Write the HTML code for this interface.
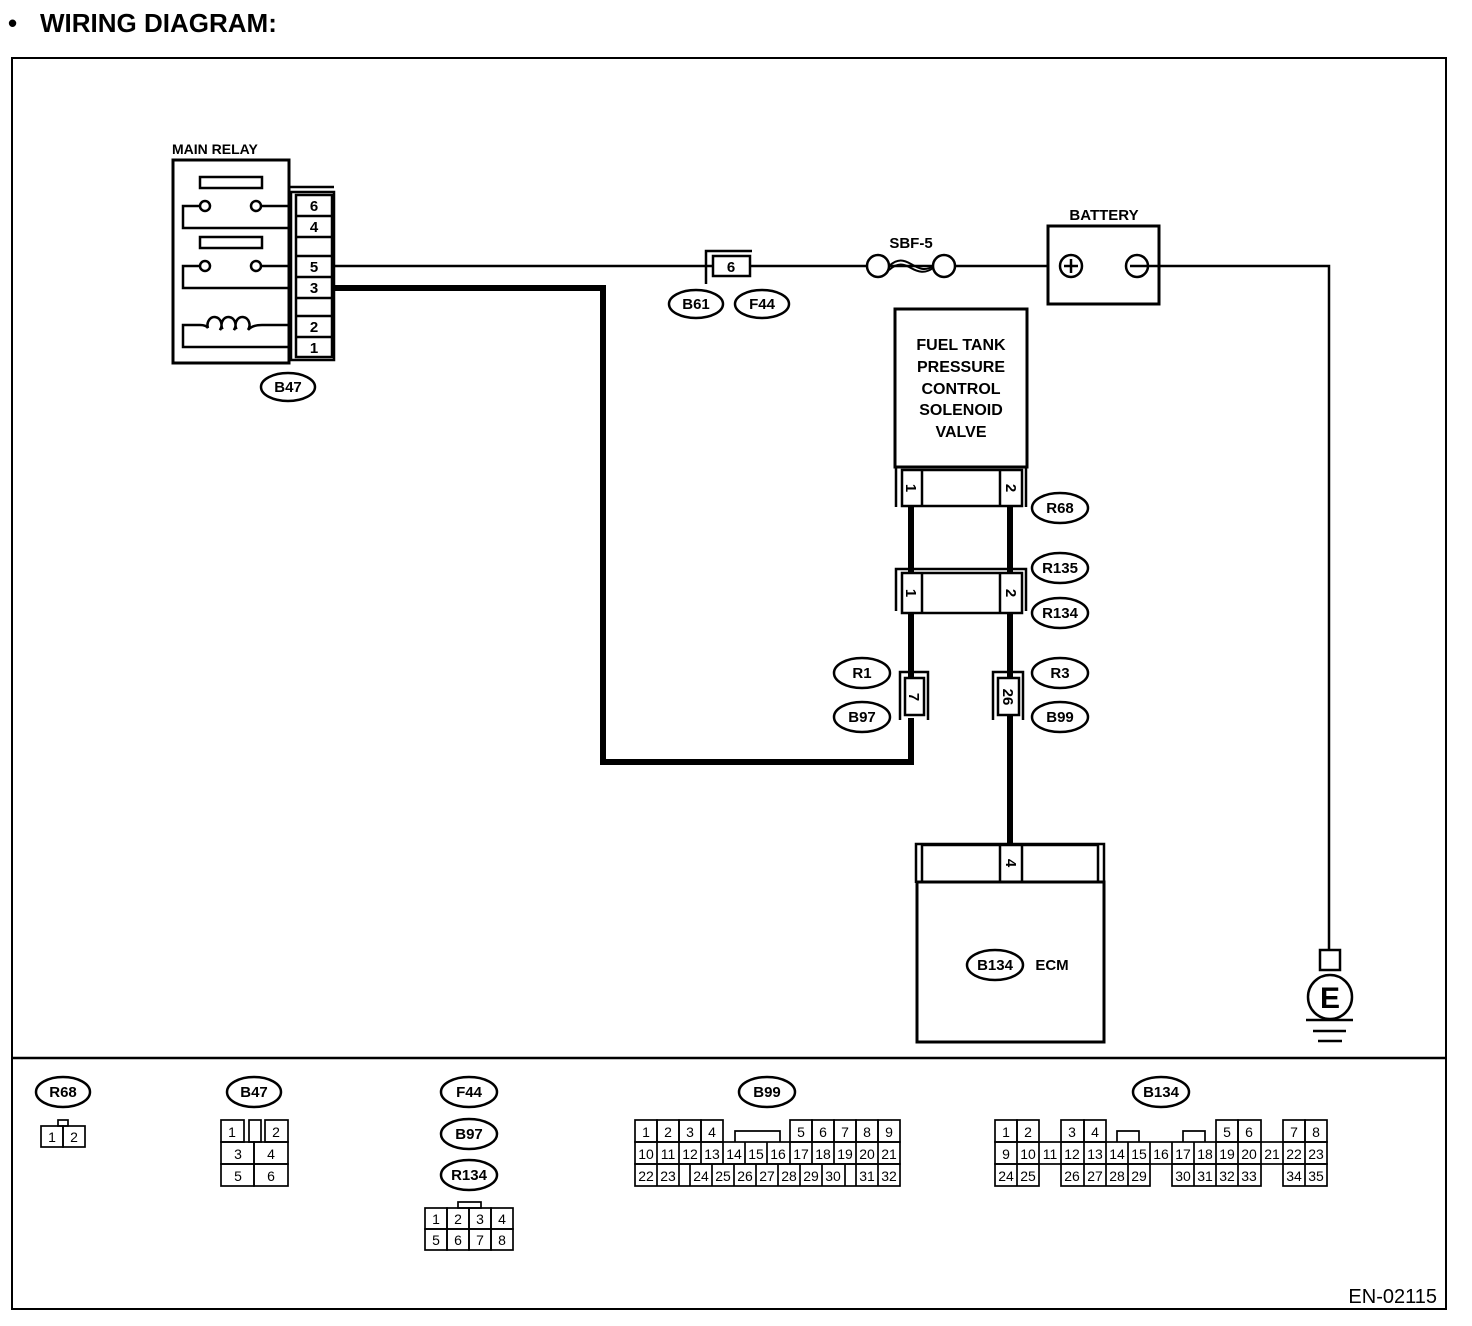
<!DOCTYPE html>
<html><head><meta charset="utf-8"><style>
html,body{margin:0;padding:0;background:#fff}
svg{display:block}
text{font-family:"Liberation Sans",Arial,sans-serif;fill:#000}
.b{font-weight:bold}
.lb{font-weight:bold;font-size:15px;text-anchor:middle}
.n{font-size:14px;text-anchor:middle}
</style></head><body>
<svg width="1472" height="1326" viewBox="0 0 1472 1326" xmlns="http://www.w3.org/2000/svg">
<g stroke="#000" fill="none" stroke-width="2.5">
<rect x="12" y="58" width="1434" height="1251" stroke-width="2"/>
<line x1="12" y1="1058" x2="1446" y2="1058"/>

<rect x="173" y="160" width="116" height="203" stroke-width="3"/>
<line x1="288" y1="187" x2="334" y2="187"/>
<rect x="291" y="192" width="43" height="168"/>
<rect x="296" y="195" width="36" height="162"/>
<line x1="296" y1="216" x2="332" y2="216"/>
<line x1="296" y1="237" x2="332" y2="237"/>
<line x1="296" y1="256" x2="332" y2="256"/>
<line x1="296" y1="277" x2="332" y2="277"/>
<line x1="296" y1="298" x2="332" y2="298"/>
<line x1="296" y1="316" x2="332" y2="316"/>
<line x1="296" y1="337" x2="332" y2="337"/>
<rect x="200" y="177" width="62" height="11"/>
<circle cx="205" cy="206" r="5"/><circle cx="256" cy="206" r="5"/>
<polyline points="200,206 183,206 183,228 292,228"/>
<line x1="261" y1="206" x2="292" y2="206"/>
<rect x="200" y="237" width="62" height="11"/>
<circle cx="205" cy="266" r="5"/><circle cx="256" cy="266" r="5"/>
<polyline points="200,266 183,266 183,288 292,288"/>
<line x1="261" y1="266" x2="292" y2="266"/>
<polyline points="292,347 183,347 183,325 200,325"/>
<path d="M200,325 Q206,325 208,328 A7,8 0 1 1 220,330 A3,3 0 0 1 222,328 A7,8 0 1 1 234,330 A3,3 0 0 1 236,328 A7,8 0 1 1 248,330 Q252,325 262,325 L292,325"/>
<ellipse cx="288" cy="387" rx="27" ry="14"/>

<line x1="334" y1="266" x2="1048" y2="266"/>
<polyline points="706,284 706,251 752,251"/>
<rect x="713" y="256" width="37" height="20" fill="#fff"/>
<circle cx="878" cy="266" r="11" fill="#fff"/>
<circle cx="944" cy="266" r="11" fill="#fff"/>
<path d="M889,266 C898,258 904,260 911,264 C918,268 925,272 933,266" stroke-width="2"/>
<path d="M889,270 C898,262 904,264 911,268 C918,272 925,274 933,268" stroke-width="2"/>
<ellipse cx="696" cy="304" rx="27" ry="14"/>
<ellipse cx="762" cy="304" rx="27" ry="14"/>
<rect x="1048" y="226" width="111" height="78" stroke-width="3"/>
<circle cx="1071" cy="266" r="11"/>
<line x1="1064" y1="266" x2="1078" y2="266"/><line x1="1071" y1="259" x2="1071" y2="273"/>
<circle cx="1137" cy="266" r="11"/>
<polyline points="1130,266 1329,266 1329,950"/>
<rect x="1320" y="950" width="20" height="20"/>
<circle cx="1330" cy="997" r="22"/>
<line x1="1306" y1="1020" x2="1353" y2="1020"/>
<line x1="1313" y1="1031" x2="1346" y2="1031"/>
<line x1="1318" y1="1041" x2="1342" y2="1041"/>

<polyline points="334,288 603,288 603,762 911,762 911,718" stroke-width="6"/>
<line x1="911" y1="506" x2="911" y2="573" stroke-width="6"/>
<line x1="1010" y1="506" x2="1010" y2="573" stroke-width="6"/>
<line x1="911" y1="613" x2="911" y2="678" stroke-width="6"/>
<line x1="1010" y1="613" x2="1010" y2="678" stroke-width="6"/>
<line x1="1010" y1="715" x2="1010" y2="846" stroke-width="6"/>

<rect x="895" y="309" width="132" height="158" stroke-width="3"/>
<polyline points="896,507 896,467 1026,467 1026,507"/>
<rect x="902" y="470" width="120" height="36" fill="#fff"/>
<line x1="922" y1="470" x2="922" y2="506"/><line x1="1000" y1="470" x2="1000" y2="506"/>
<polyline points="896,611 896,569 1026,569 1026,611"/>
<rect x="902" y="573" width="120" height="40" fill="#fff"/>
<line x1="922" y1="573" x2="922" y2="613"/><line x1="1000" y1="573" x2="1000" y2="613"/>
<polyline points="900,720 900,672 928,672 928,720"/>
<rect x="905" y="678" width="19" height="37" fill="#fff"/>
<polyline points="993,720 993,672 1023,672 1023,720"/>
<rect x="998" y="678" width="21" height="37" fill="#fff"/>
<ellipse cx="1060" cy="508" rx="28" ry="15"/>
<ellipse cx="1060" cy="568" rx="28" ry="15"/>
<ellipse cx="1060" cy="613" rx="28" ry="15"/>
<ellipse cx="862" cy="673" rx="28" ry="15"/>
<ellipse cx="862" cy="717" rx="28" ry="15"/>
<ellipse cx="1060" cy="673" rx="28" ry="15"/>
<ellipse cx="1060" cy="717" rx="28" ry="15"/>

<polyline points="916,883 916,844 1104,844 1104,883"/>
<rect x="922" y="845" width="176" height="37"/>
<line x1="1000" y1="845" x2="1000" y2="882"/><line x1="1022" y1="845" x2="1022" y2="882"/>
<rect x="917" y="882" width="187" height="160" stroke-width="3"/>
<ellipse cx="995" cy="965" rx="28" ry="15"/>

<ellipse cx="63" cy="1092" rx="27" ry="15"/>
<ellipse cx="254" cy="1092" rx="27" ry="15"/>
<ellipse cx="469" cy="1092" rx="28" ry="15"/>
<ellipse cx="469" cy="1134" rx="28" ry="15"/>
<ellipse cx="469" cy="1175" rx="28" ry="15"/>
<ellipse cx="767" cy="1092" rx="28" ry="15"/>
<ellipse cx="1161" cy="1092" rx="28" ry="15"/>
</g>

<g stroke="#000" fill="none" stroke-width="1.7">
<rect x="58" y="1120" width="10" height="6"/>
<rect x="41" y="1126" width="22" height="21"/><rect x="63" y="1126" width="22" height="21"/>
<rect x="221" y="1120" width="23" height="22"/><rect x="249" y="1120" width="12" height="22"/><rect x="265" y="1120" width="23" height="22"/>
<rect x="221" y="1142" width="33" height="22"/><rect x="254" y="1142" width="34" height="22"/>
<rect x="221" y="1164" width="33" height="22"/><rect x="254" y="1164" width="34" height="22"/>
<rect x="458" y="1202" width="23" height="6"/>
<rect x="425" y="1208" width="22" height="21"/><rect x="447" y="1208" width="22" height="21"/><rect x="469" y="1208" width="22" height="21"/><rect x="491" y="1208" width="22" height="21"/>
<rect x="425" y="1229" width="22" height="21"/><rect x="447" y="1229" width="22" height="21"/><rect x="469" y="1229" width="22" height="21"/><rect x="491" y="1229" width="22" height="21"/>
<rect x="635" y="1120" width="22" height="22"/><rect x="657" y="1120" width="22" height="22"/><rect x="679" y="1120" width="22" height="22"/><rect x="701" y="1120" width="22" height="22"/>
<polyline points="735,1142 735,1131 780,1131 780,1142"/>
<rect x="790" y="1120" width="22" height="22"/><rect x="812" y="1120" width="22" height="22"/><rect x="834" y="1120" width="22" height="22"/><rect x="856" y="1120" width="22" height="22"/><rect x="878" y="1120" width="22" height="22"/>
<rect x="635" y="1142" width="265" height="22"/>
<path d="M657,1142V1164M679,1142V1164M701,1142V1164M723,1142V1164M745,1142V1164M767,1142V1164M790,1142V1164M812,1142V1164M834,1142V1164M856,1142V1164M878,1142V1164"/>
<rect x="635" y="1164" width="265" height="22"/>
<path d="M657,1164V1186M679,1164V1186M690,1164V1186M712,1164V1186M734,1164V1186M756,1164V1186M778,1164V1186M800,1164V1186M822,1164V1186M845,1164V1186M856,1164V1186M878,1164V1186"/>
<rect x="995" y="1120" width="22" height="22"/><rect x="1017" y="1120" width="22" height="22"/>
<rect x="1061" y="1120" width="23" height="22"/><rect x="1084" y="1120" width="22" height="22"/>
<polyline points="1117,1142 1117,1131 1139,1131 1139,1142"/>
<polyline points="1183,1142 1183,1131 1205,1131 1205,1142"/>
<rect x="1216" y="1120" width="22" height="22"/><rect x="1238" y="1120" width="23" height="22"/>
<rect x="1283" y="1120" width="22" height="22"/><rect x="1305" y="1120" width="22" height="22"/>
<rect x="995" y="1142" width="332" height="22"/>
<path d="M1017,1142V1164M1039,1142V1164M1061,1142V1164M1084,1142V1164M1106,1142V1164M1128,1142V1164M1150,1142V1164M1172,1142V1164M1194,1142V1164M1216,1142V1164M1238,1142V1164M1261,1142V1164M1283,1142V1164M1305,1142V1164"/>
<rect x="995" y="1164" width="44" height="22"/><line x1="1017" y1="1164" x2="1017" y2="1186"/>
<rect x="1061" y="1164" width="89" height="22"/><path d="M1084,1164V1186M1106,1164V1186M1128,1164V1186"/>
<rect x="1172" y="1164" width="89" height="22"/><path d="M1194,1164V1186M1216,1164V1186M1238,1164V1186"/>
<rect x="1283" y="1164" width="44" height="22"/><line x1="1305" y1="1164" x2="1305" y2="1186"/>
</g>

<text x="8" y="32" class="b" font-size="26">•</text>
<text x="40" y="32" class="b" font-size="26">WIRING DIAGRAM:</text>
<text x="1437" y="1303" font-size="20" text-anchor="end">EN-02115</text>
<text x="172" y="154" class="b" font-size="14">MAIN RELAY</text>
<g class="lb">
<text x="314" y="211">6</text><text x="314" y="232">4</text><text x="314" y="272">5</text><text x="314" y="293">3</text><text x="314" y="332">2</text><text x="314" y="353">1</text>
<text x="288" y="392">B47</text>
<text x="731" y="272">6</text>
<text x="696" y="309">B61</text><text x="762" y="309">F44</text>
<text x="911" y="248">SBF-5</text>
<text x="1104" y="220">BATTERY</text>
<text x="961" y="350" font-size="16">FUEL TANK</text>
<text x="961" y="372" font-size="16">PRESSURE</text>
<text x="961" y="394" font-size="16">CONTROL</text>
<text x="961" y="415" font-size="16">SOLENOID</text>
<text x="961" y="437" font-size="16">VALVE</text>
<text x="1060" y="513">R68</text><text x="1060" y="573">R135</text><text x="1060" y="618">R134</text>
<text x="862" y="678">R1</text><text x="862" y="722">B97</text><text x="1060" y="678">R3</text><text x="1060" y="722">B99</text>
<text x="995" y="970">B134</text>
<text x="1052" y="970">ECM</text>
<text x="1330" y="1008" font-size="30">E</text>
<text x="63" y="1097">R68</text><text x="254" y="1097">B47</text>
<text x="469" y="1097">F44</text><text x="469" y="1139">B97</text><text x="469" y="1180">R134</text>
<text x="767" y="1097">B99</text><text x="1161" y="1097">B134</text>
</g>
<g class="lb" font-size="14">
<text transform="translate(911,488) rotate(90)" y="5">1</text>
<text transform="translate(1011,488) rotate(90)" y="5">2</text>
<text transform="translate(911,593) rotate(90)" y="5">1</text>
<text transform="translate(1011,593) rotate(90)" y="5">2</text>
<text transform="translate(914,697) rotate(90)" y="5">7</text>
<text transform="translate(1008,697) rotate(90)" y="5">26</text>
<text transform="translate(1011,863) rotate(90)" y="5">4</text>
</g>
<g class="n">
<text x="52" y="1142">1</text><text x="74" y="1142">2</text>
<text x="232" y="1137">1</text><text x="276" y="1137">2</text>
<text x="238" y="1159">3</text><text x="271" y="1159">4</text>
<text x="238" y="1181">5</text><text x="271" y="1181">6</text>
<text x="436" y="1224">1</text><text x="458" y="1224">2</text><text x="480" y="1224">3</text><text x="502" y="1224">4</text>
<text x="436" y="1245">5</text><text x="458" y="1245">6</text><text x="480" y="1245">7</text><text x="502" y="1245">8</text>
<text x="646" y="1137">1</text><text x="668" y="1137">2</text><text x="690" y="1137">3</text><text x="712" y="1137">4</text>
<text x="801" y="1137">5</text><text x="823" y="1137">6</text><text x="845" y="1137">7</text><text x="867" y="1137">8</text><text x="889" y="1137">9</text>
<text x="646" y="1159">10</text><text x="668" y="1159">11</text><text x="690" y="1159">12</text><text x="712" y="1159">13</text><text x="734" y="1159">14</text><text x="756" y="1159">15</text><text x="778" y="1159">16</text><text x="801" y="1159">17</text><text x="823" y="1159">18</text><text x="845" y="1159">19</text><text x="867" y="1159">20</text><text x="889" y="1159">21</text>
<text x="646" y="1181">22</text><text x="668" y="1181">23</text><text x="701" y="1181">24</text><text x="723" y="1181">25</text><text x="745" y="1181">26</text><text x="767" y="1181">27</text><text x="789" y="1181">28</text><text x="811" y="1181">29</text><text x="833" y="1181">30</text><text x="867" y="1181">31</text><text x="889" y="1181">32</text>
<text x="1006" y="1137">1</text><text x="1028" y="1137">2</text><text x="1072" y="1137">3</text><text x="1095" y="1137">4</text>
<text x="1227" y="1137">5</text><text x="1249" y="1137">6</text><text x="1294" y="1137">7</text><text x="1316" y="1137">8</text>
<text x="1006" y="1159">9</text><text x="1028" y="1159">10</text><text x="1050" y="1159">11</text><text x="1072" y="1159">12</text><text x="1095" y="1159">13</text><text x="1117" y="1159">14</text><text x="1139" y="1159">15</text><text x="1161" y="1159">16</text><text x="1183" y="1159">17</text><text x="1205" y="1159">18</text><text x="1227" y="1159">19</text><text x="1249" y="1159">20</text><text x="1272" y="1159">21</text><text x="1294" y="1159">22</text><text x="1316" y="1159">23</text>
<text x="1006" y="1181">24</text><text x="1028" y="1181">25</text><text x="1072" y="1181">26</text><text x="1095" y="1181">27</text><text x="1117" y="1181">28</text><text x="1139" y="1181">29</text><text x="1183" y="1181">30</text><text x="1205" y="1181">31</text><text x="1227" y="1181">32</text><text x="1249" y="1181">33</text><text x="1294" y="1181">34</text><text x="1316" y="1181">35</text>
</g>
</svg>
</body></html>
